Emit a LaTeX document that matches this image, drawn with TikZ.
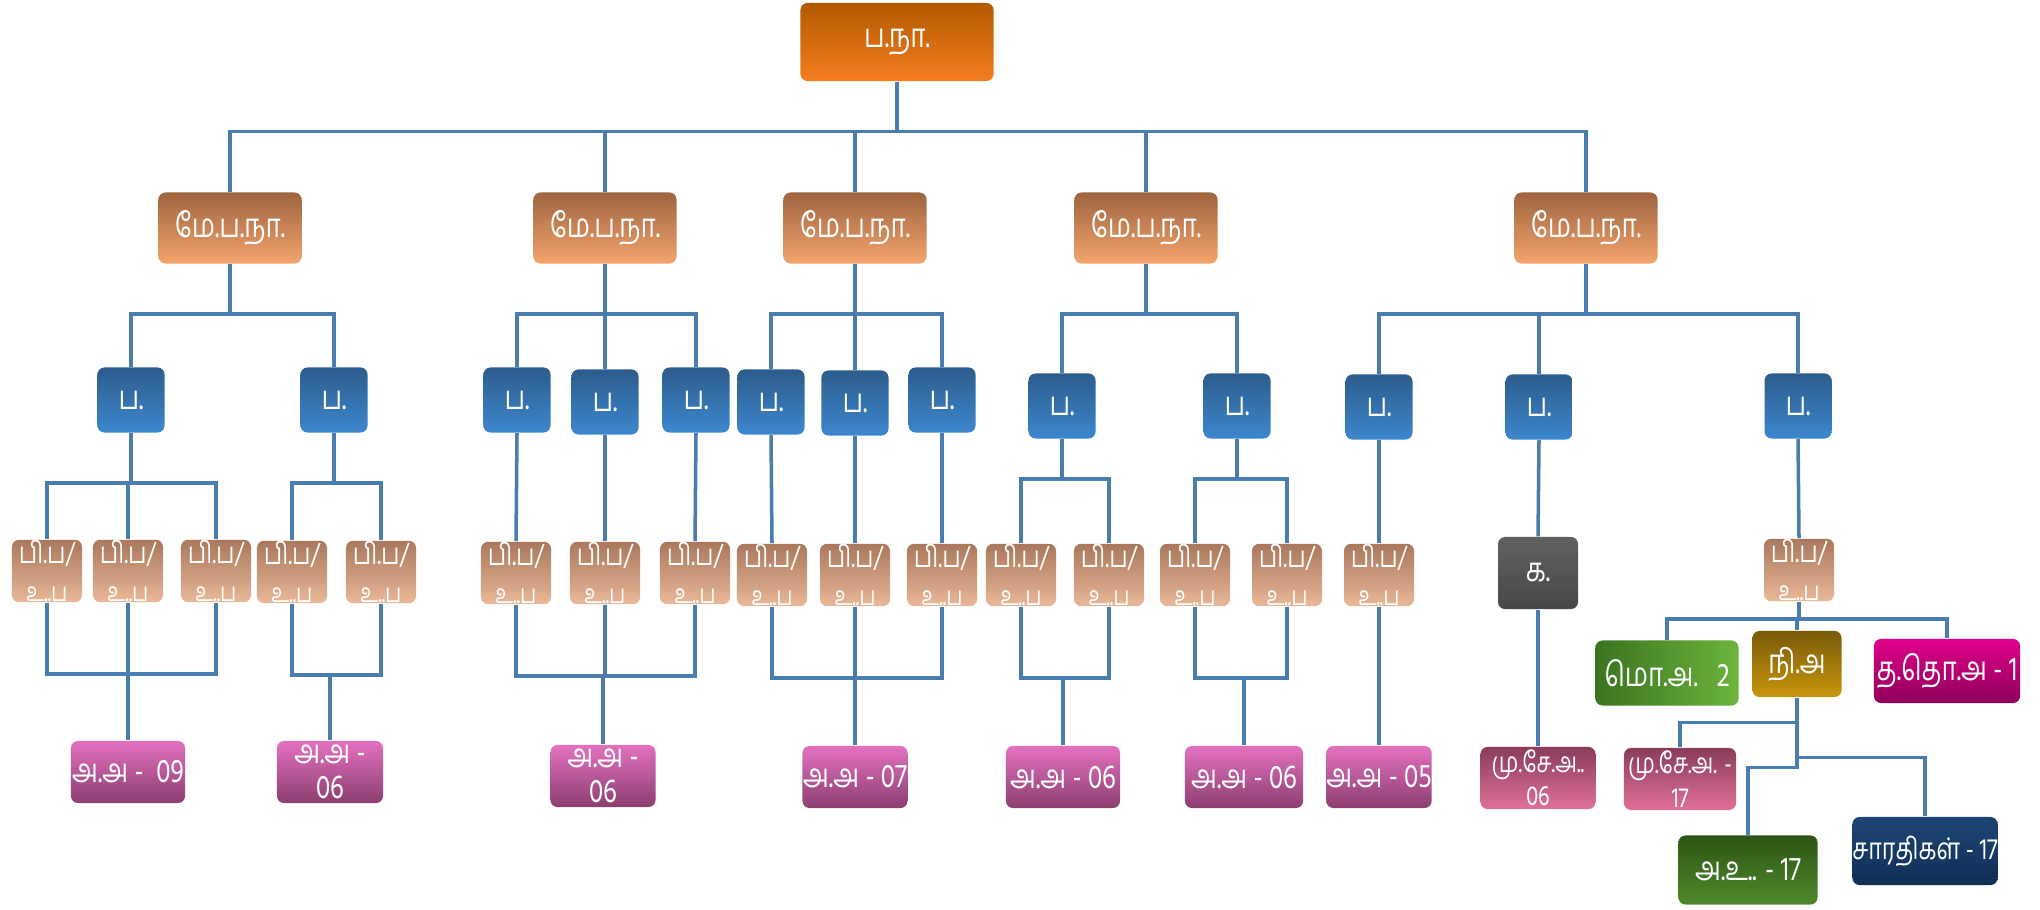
\documentclass[tikz,border=0pt]{standalone}
\usepackage{fontspec}
\newfontfamily\tamil[Script=Tamil,FakeStretch=0.78]{Hind Madurai}
\definecolor{linkblue}{HTML}{4A7DAF}
\usetikzlibrary{positioning}

\begin{document}
\begin{tikzpicture}[x=0.01cm, y=-0.01cm,
      every node/.style = {shape=rectangle, rounded corners=2pt,
        align=center, inner sep=0pt, text=white,
        font=\tamil\fontsize{9.5}{10}\selectfont},
      sz/.style 2 args = {minimum width=#1cm, minimum height=#2cm},
      rootbox/.style = {sz={1.93}{0.78}, top color=orange!70!black, bottom color={rgb,255:red,245;green,125;blue,32}},
      mepn/.style = {sz={1.43}{0.71}, top color={rgb,255:red,158;green,100;blue,64}, bottom color={rgb,255:red,244;green,164;blue,108}},
      pbox/.style = {sz={0.67}{0.65}, top color={rgb,255:red,44;green,92;blue,140}, bottom color={rgb,255:red,61;green,135;blue,207}},
      tanbox/.style = {sz={0.70}{0.62}, top color={rgb,255:red,170;green,120;blue,92}, bottom color={rgb,255:red,232;green,184;blue,152},
        font=\tamil\fontsize{8.5}{9}\selectfont},
      aabox/.style = {sz={#1}{0.62}, top color={rgb,255:red,227;green,113;blue,192}, bottom color={rgb,255:red,140;green,62;blue,112}},
      kbox/.style = {sz={0.80}{0.72}, top color=black!62, bottom color=black!72},
      msbox/.style = {sz={#1}{0.62}, top color={rgb,255:red,138;green,60;blue,90}, bottom color={rgb,255:red,224;green,112;blue,154},
        font=\tamil\fontsize{8}{9.5}\selectfont},
      mobox/.style = {sz={1.43}{0.65}, left color={rgb,255:red,58;green,116;blue,32}, right color={rgb,255:red,108;green,180;blue,60}},
      nibox/.style = {sz={0.89}{0.66}, top color={rgb,255:red,122;green,90;blue,8}, bottom color={rgb,255:red,200;green,150;blue,12}},
      ttbox/.style = {sz={1.46}{0.64}, top color={rgb,255:red,224;green,0;blue,138}, bottom color={rgb,255:red,142;green,0;blue,90}},
      aubox/.style = {sz={1.39}{0.69}, top color={rgb,255:red,45;green,84;blue,20}, bottom color={rgb,255:red,79;green,138;blue,44}},
      sabox/.style = {sz={1.28}{0.68}, top color={rgb,255:red,29;green,70;blue,117}, bottom color={rgb,255:red,16;green,46;blue,85},
        font=\tamil\fontsize{8.5}{9}\selectfont},
      link/.style = {draw=linkblue, line width=1pt}]
  \useasboundingbox (0,0) rectangle (2040,910);

  \node[rootbox] (pn) at (897,42) {ப.நா.};

  \node[mepn] (m1) at (230,228) {மே.ப.நா.};
  \node[mepn] (m2) at (605,228) {மே.ப.நா.};
  \node[mepn] (m3) at (855,228) {மே.ப.நா.};
  \node[mepn] (m4) at (1146,228) {மே.ப.நா.};
  \node[mepn] (m5) at (1586,228) {மே.ப.நா.};

  \foreach \n/\x/\y in {p1/131/400, p2/334/400, p3/517/400, p4/605/402,
      p5/696/400, p6/771/402, p7/855/403, p8/942/400, p9/1062/406,
      p10/1237/406, p11/1379/407, p12/1539/407, p13/1798/406}
    \node[pbox] (\n) at (\x,\y) {ப.};

  \foreach \n/\x/\y in {t1/47/571, t2/128/571, t3/216/571, t4/292/572,
      t5/381/572, t6/516/573, t7/605/573, t8/695/573, t9/772/575,
      t10/855/575, t11/942/575, t12/1021/575, t13/1109/575, t14/1195/575,
      t15/1287/575, t16/1379/575, t17/1799/570}
    \node[tanbox] (\n) at (\x,\y) {பி.ப/\\[2pt]{\fontsize{7.5}{8}\selectfont உ..ப}};

  \node[aabox=1.14] (a1) at (128,772) {அ.அ -\ \ 09};
  \node[aabox=1.06] (a2) at (330,772) {அ.அ -\\06};
  \node[aabox=1.05] (a3) at (603,776) {அ.அ -\\06};
  \node[aabox=1.05] (a4) at (855,777) {அ.அ - 07};
  \node[aabox=1.14] (a5) at (1063,777) {அ.அ - 06};
  \node[aabox=1.18] (a6) at (1244,777) {அ.அ - 06};
  \node[aabox=1.05] (a7) at (1379,777) {அ.அ - 05};

  \node[kbox] (k) at (1538,573) {க.};
  \node[msbox=1.15] (ms1) at (1538,778) {மு.சே.அ..\\06};

  \node[mobox] (mo) at (1667,673) {மொ.அ.\ \ \ 2};
  \node[nibox] (ni) at (1797,664) {நி.அ};
  \node[ttbox] (tt) at (1947,671) {த.தொ.அ - 1};
  \node[msbox=1.12] (ms2) at (1680,779) {மு.சே.அ. -\\17};
  \node[aubox] (au) at (1748,870) {அ.உ.. - 17};
  \node[sabox] (sa) at (1925,851) {சாரதிகள் - 17};

  \foreach \m in {m1,m2,m3,m4,m5}
    \draw[link] (pn.south) -- ++(0,50) -| (\m.north);
  \foreach \m/\p in {m1/p1, m1/p2, m2/p3, m2/p4, m2/p5, m3/p6, m3/p7, m3/p8,
      m4/p9, m4/p10, m5/p11, m5/p12, m5/p13}
    \draw[link] (\m.south) -- ++(0,50) -| (\p.north);
  \foreach \p/\t in {p1/t1, p1/t2, p1/t3, p2/t4, p2/t5}
    \draw[link] (\p.south) -- ++(0,50) -| (\t.north);
  \foreach \p/\t in {p9/t12, p9/t13, p10/t14, p10/t15}
    \draw[link] (\p.south) -- ++(0,40) -| (\t.north);
  \foreach \p/\t in {p3/t6, p4/t7, p5/t8, p6/t9, p7/t10, p8/t11, p11/t16,
      p12/k, p13/t17, t16/a7, k/ms1}
    \draw[link] (\p.south) -- (\t.north);
  \foreach \t/\a in {t1/a1, t2/a1, t3/a1, t4/a2, t5/a2, t6/a3, t7/a3, t8/a3,
      t9/a4, t10/a4, t11/a4, t12/a5, t13/a5, t14/a6, t15/a6}
    \draw[link] (\t.south) -- ++(0,71) -| (\a.north);
  \foreach \c in {mo,ni,tt}
    \draw[link] (t17.south) -- ++(0,17) -| (\c.north);
  \draw[link] (ni.south) -- ++(0,25) -| (ms2.north);
  \draw[link] (ni.south) -- ++(0,60) -| (sa.north);
  \draw[link] (ni.south) -- ++(0,70) -| (au.north);
\end{tikzpicture}
\end{document}
